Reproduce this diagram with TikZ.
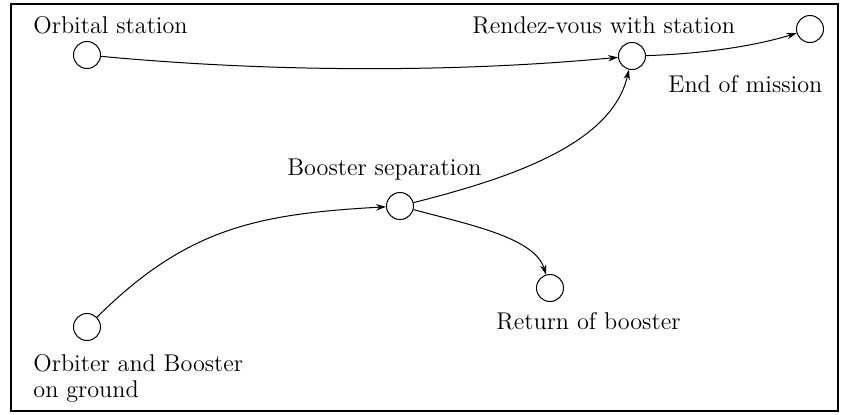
\documentclass[tikz,border=0pt]{standalone}
\usetikzlibrary{arrows.meta}
\begin{document}
\begin{tikzpicture}[x=0.5pt,y=-0.5pt,
  state/.style={circle,draw,line width=0.5pt,minimum size=13.5pt,inner sep=0pt},
  lbl/.style={inner sep=0pt,anchor=base west,font=\fontsize{12.1}{13}\selectfont},
  flow/.style={line width=0.5pt,-{Stealth[length=5pt,width=3.2pt]}}]
\useasboundingbox (0,0) rectangle (843,414);
\draw[line width=1pt] (11,4) rectangle (838,411);

% states
\node[state] (os) at (87,55) {};
\node[state] (rv) at (632,56) {};
\node[state] (em) at (810,29) {};
\node[state] (bs) at (400,206) {};
\node[state] (rb) at (550,288) {};
\node[state] (og) at (87,327) {};

% labels
\node[lbl] (osl) at (33,33) {Orbital station};
\node[lbl] (rvl) at (472,33) {Rendez-vous with station};
\node[lbl] (eml) at (668,92) {End of mission};
\node[lbl] (bsl) at (287,175) {Booster separation};
\node[lbl] (rbl) at (496,329) {Return of booster};
\node[lbl] (ogl) at (33,371) {Orbiter and Booster};
\node[lbl] (ogl2) at (33,397) {on ground};

% transitions
\draw[flow] (os) .. controls +(180,17) and +(-180,17) .. (rv);
\draw[flow] (rv) .. controls +(70,-2) and +(-55,17) .. (em);
\draw[flow] (og) .. controls +(100,-99) and +(-143,8) .. (bs);
\draw[flow] (bs) .. controls +(111,-28) and +(-20,88) .. (rv);
\draw[flow] (bs) .. controls +(71,19) and +(-15,-50) .. (rb);
\end{tikzpicture}
\end{document}
